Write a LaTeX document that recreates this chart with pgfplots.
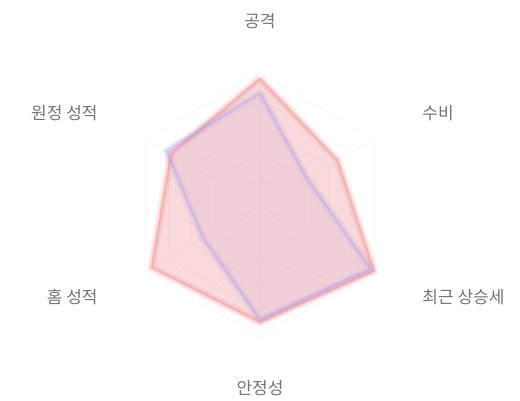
\documentclass[border=0pt]{standalone}
\usepackage{pgfplots}
\pgfplotsset{compat=1.18}
\usepgfplotslibrary{polar}
\usepackage{fontspec}
\setmainfont{Noto Sans CJK KR}
\definecolor{labgray}{RGB}{115,115,122}
\definecolor{gridgray}{RGB}{246,246,247}
\definecolor{redline}{RGB}{240,120,120}
\definecolor{redfill}{RGB}{238,150,155}
\definecolor{blueline}{RGB}{155,140,230}
\definecolor{bluefill}{RGB}{205,160,210}
\tikzset{lab/.style={text=labgray, font=\fontsize{17}{19}\selectfont}}
\begin{document}
\begin{tikzpicture}[x=1pt,y=1pt]
\path[use as bounding box] (-260,-195) rectangle (260,205);
\begin{polaraxis}[
    at={(0,0)}, anchor=origin,
    width=264pt, height=264pt, scale only axis,
    ymin=0, ymax=100,
    hide axis,
    clip=false,
]
% grid rings
\addplot[gridgray, line width=0.6pt] coordinates {(90,100) (30,100) (330,100) (270,100) (210,100) (150,100) (90,100)};
\addplot[gridgray, line width=0.6pt] coordinates {(90,80) (30,80) (330,80) (270,80) (210,80) (150,80) (90,80)};
\addplot[gridgray, line width=0.6pt] coordinates {(90,60) (30,60) (330,60) (270,60) (210,60) (150,60) (90,60)};
\addplot[gridgray, line width=0.6pt] coordinates {(90,40) (30,40) (330,40) (270,40) (210,40) (150,40) (90,40)};
\addplot[gridgray, line width=0.6pt] coordinates {(90,20) (30,20) (330,20) (270,20) (210,20) (150,20) (90,20)};
\addplot[gridgray, line width=0.6pt] coordinates {(90,100) (270,100)};
\addplot[gridgray, line width=0.6pt] coordinates {(30,100) (210,100)};
\addplot[gridgray, line width=0.6pt] coordinates {(150,100) (330,100)};
% series A (red)
\addplot[draw=none, fill=redfill, fill opacity=0.36] coordinates {(90,96) (30,68) (330,100) (270,89) (210,95) (150,78) (90,96)};
\addplot[redline, line width=9pt, opacity=0.10, line join=round] coordinates {(90,96) (30,68) (330,100) (270,89) (210,95) (150,78) (90,96)};
\addplot[redline, line width=5pt, opacity=0.18, line join=round] coordinates {(90,96) (30,68) (330,100) (270,89) (210,95) (150,78) (90,96)};
\addplot[redline, line width=2pt, opacity=0.25, line join=round] coordinates {(90,96) (30,68) (330,100) (270,89) (210,95) (150,78) (90,96)};
% series B (blue)
\addplot[draw=none, fill=bluefill, fill opacity=0.17] coordinates {(90,85) (30,41) (330,97) (270,87) (210,50) (150,82) (90,85)};
\addplot[blueline, line width=9pt, opacity=0.08, line join=round] coordinates {(90,85) (30,41) (330,97) (270,87) (210,50) (150,82) (90,85)};
\addplot[blueline, line width=5pt, opacity=0.14, line join=round] coordinates {(90,85) (30,41) (330,97) (270,87) (210,50) (150,82) (90,85)};
\addplot[blueline, line width=2pt, opacity=0.2, line join=round] coordinates {(90,85) (30,41) (330,97) (270,87) (210,50) (150,82) (90,85)};
% axis labels
\node[lab, anchor=center] at (axis cs:90,139) {공격};
\node[lab, anchor=west] at (axis cs:30,139) {수비};
\node[lab, anchor=west] at (axis cs:330,139) {최근 상승세};
\node[lab, anchor=center] at (axis cs:270,139) {안정성};
\node[lab, anchor=east] at (axis cs:210,139) {홈 성적};
\node[lab, anchor=east] at (axis cs:150,139) {원정 성적};
\end{polaraxis}
\end{tikzpicture}
\end{document}
